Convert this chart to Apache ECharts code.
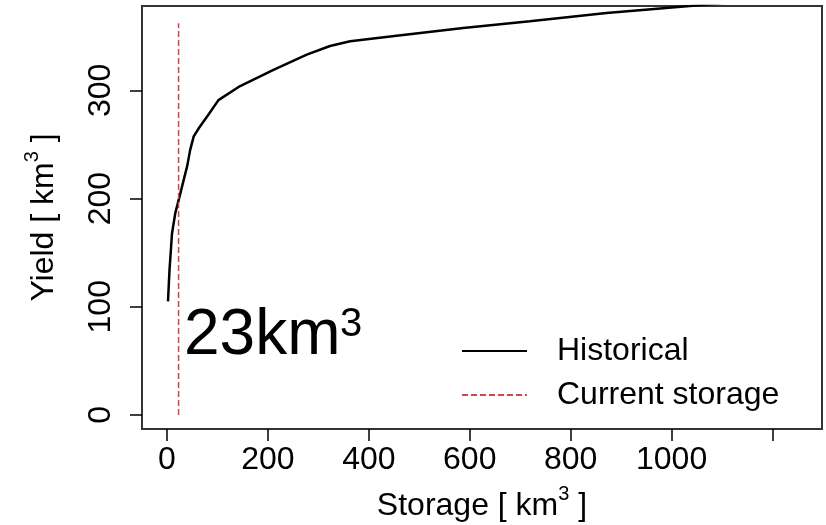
<!DOCTYPE html>
<html>
<head>
<meta charset="utf-8">
<script src="https://cdn.jsdelivr.net/npm/echarts@6/dist/echarts.min.js"></script>
<style>html,body{margin:0;padding:0;background:#fff;}#c{width:826px;height:525px;}</style>
</head>
<body>
<div id="c"></div>
<script>
// Historical yield curve (storage km3 -> yield km3)
var storage = [2, 5, 10, 16.5, 25, 33, 40, 46, 53, 63, 82, 102, 145, 211, 277, 323, 363, 455, 587, 719, 871, 1036, 1250];
var yieldVals = [105, 134, 168, 186.6, 202, 217, 230, 245, 257.5, 265, 277.5, 291, 304, 319, 333, 341, 345.4, 350.6, 357.7, 363.8, 371.5, 378, 387];
// Current storage marker
var currentStorage = 23;
var currentYieldRange = [0, 362];
// Ticks
var xTicks = [0, 200, 400, 600, 800, 1000, 1200];
var xLabels = [0, 200, 400, 600, 800, 1000];
var yTicks = [0, 100, 200, 300];

var hist = storage.map(function (s, i) { return [s, yieldVals[i]]; });
var cur = currentYieldRange.map(function (y) { return [currentStorage, y]; });
var FONT = 'Liberation Sans, Arial, sans-serif';

var chart = echarts.init(document.getElementById('c'));
chart.setOption({
  animation: false,
  backgroundColor: '#fff',
  textStyle: { fontFamily: FONT, color: '#000' },
  grid: { left: 142, top: 6, right: 4, bottom: 96, outerBoundsMode: 'none', containLabel: false,
    show: true, borderColor: '#333', borderWidth: 2, backgroundColor: 'transparent' },
  xAxis: {
    type: 'value', min: -49.5, max: 1298,
    splitLine: { show: false },
    axisLine: { show: false, onZero: false },
    axisTick: { show: true, length: 12, inside: false, customValues: xTicks, lineStyle: { color: '#000', width: 1.5 } },
    axisLabel: { customValues: xLabels, fontSize: 32, color: '#000', margin: 15, fontFamily: FONT,
      formatter: function (v) { return String(v); } },
    name: '{t|Storage [ km}{s|3}{t| ]}',
    nameLocation: 'middle', nameGap: 55,
    nameTextStyle: {
      rich: {
        t: { fontSize: 32, fontFamily: FONT, color: '#000', verticalAlign: 'bottom' },
        s: { fontSize: 20, fontFamily: FONT, color: '#000', verticalAlign: 'bottom', padding: [0, 0, 18, 0] }
      }
    }
  },
  yAxis: {
    type: 'value', min: -13, max: 378,
    splitLine: { show: false },
    axisLine: { show: false, onZero: false },
    axisTick: { show: true, length: 12, inside: false, customValues: yTicks, lineStyle: { color: '#000', width: 1.5 } },
    axisLabel: { customValues: yTicks, fontSize: 32, color: '#000', rotate: 90, margin: 25, fontFamily: FONT,
      formatter: function (v) { return String(v); } },
    name: '{t|Yield [ km}{s|3}{t| ]}',
    nameLocation: 'middle', nameGap: 82, nameRotate: 90,
    nameTextStyle: {
      rich: {
        t: { fontSize: 32, fontFamily: FONT, color: '#000', verticalAlign: 'bottom' },
        s: { fontSize: 20, fontFamily: FONT, color: '#000', verticalAlign: 'bottom', padding: [0, 0, 18, 0] }
      }
    }
  },
  legend: {
    orient: 'vertical', left: 456, top: 330, itemWidth: 65, itemHeight: 14, itemGap: 12,
    itemStyle: { opacity: 0 },
    textStyle: { fontSize: 32, color: '#000', fontFamily: FONT, padding: [0, 0, 0, 25] },
    data: ['Historical', 'Current storage']
  },
  series: [
    {
      name: 'Historical', type: 'line', data: hist, symbol: 'none', clip: true,
      lineStyle: { color: '#000', width: 2.5 }, itemStyle: { color: '#000' }
    },
    {
      name: 'Current storage', type: 'line', data: cur, symbol: 'none', clip: true,
      lineStyle: { color: '#d0454c', width: 1.5, type: [6, 3] }, itemStyle: { color: '#d0454c' }
    }
  ],
  graphic: [
    { type: 'text', left: 184, top: 304, style: { text: '23km', font: '64px ' + FONT, fill: '#000',
      shadowColor: 'rgba(0,0,0,0.45)', shadowBlur: 4, shadowOffsetX: 3, shadowOffsetY: 3 } },
    { type: 'text', left: 340, top: 305, style: { text: '3', font: '40px ' + FONT, fill: '#000',
      shadowColor: 'rgba(0,0,0,0.45)', shadowBlur: 4, shadowOffsetX: 3, shadowOffsetY: 3 } }
  ]
});
</script>
</body>
</html>
